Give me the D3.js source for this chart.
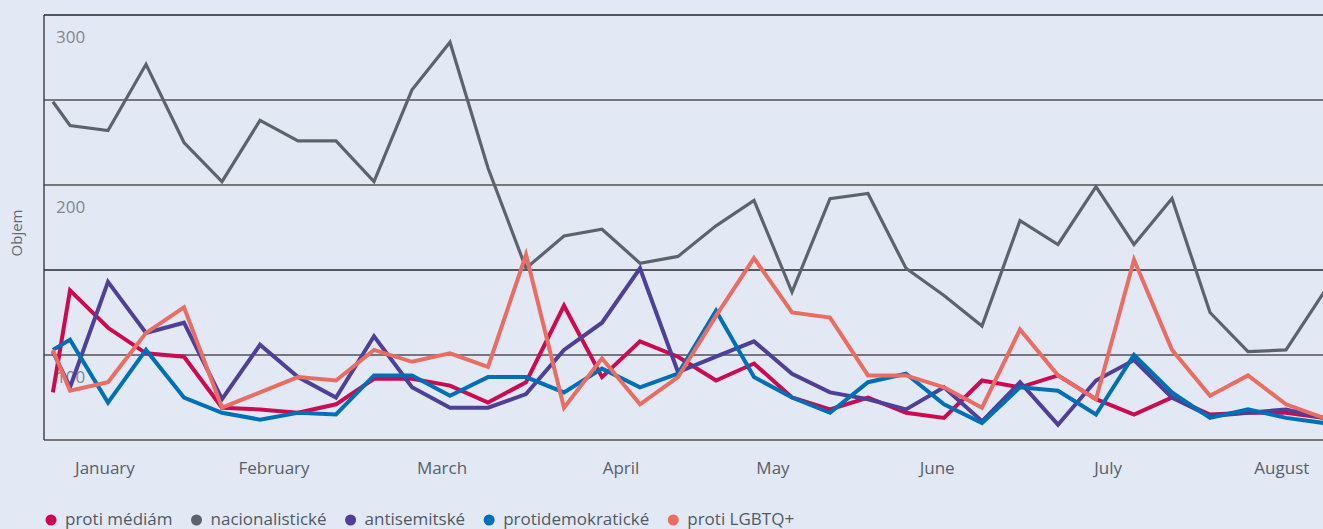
<!DOCTYPE html>
<html>
<head>
<meta charset="utf-8">
<script src="https://cdn.jsdelivr.net/npm/d3@7"></script>
<style>
  html, body { margin: 0; padding: 0; background: #e3e9f4; }
  svg { display: block; font-family: "Open Sans", sans-serif; }
</style>
</head>
<body>
<svg width="1323" height="529"></svg>
<script>
// week positions (first point is a partial week)
let weeks = [0.55, 1, 2, 3, 4, 5, 6, 7, 8, 9, 10, 11, 12, 13, 14, 15, 16, 17,
             18, 19, 20, 21, 22, 23, 24, 25, 26, 27, 28, 29, 30, 31, 32, 33, 34];

let seriesNames = ["proti médiám", "nacionalistické", "antisemitské", "protidemokratické", "proti LGBTQ+"];
let seriesColours = ["#cc0a4f", "#5b646c", "#4e3f97", "#0070b6", "#ea6d63"];

let protiMediam = [78, 138, 116, 101, 99, 69, 68, 66, 71, 86, 86, 82, 72, 84, 129, 87, 108, 99,
                   85, 95, 75, 68, 75, 66, 63, 85, 81, 88, 74, 65, 75, 65, 66, 66, 63];
let nacionalisticke = [249, 235, 232, 271, 225, 202, 238, 226, 226, 202, 256, 284, 210, 151, 170, 174, 154, 158,
                       176, 191, 137, 192, 195, 151, 135, 117, 179, 165, 199, 165, 192, 125, 102, 103, 137];
let antisemitske = [102, 81, 143, 113, 119, 74, 106, 87, 75, 111, 81, 69, 69, 77, 103, 119, 151, 90,
                    99, 108, 89, 78, 74, 68, 81, 61, 84, 59, 85, 97, 75, 64, 66, 68, 63];
let protidemokraticke = [103, 109, 72, 103, 75, 66, 62, 66, 65, 88, 88, 76, 87, 87, 78, 92, 81, 89,
                         126, 87, 75, 66, 84, 89, 71, 60, 81, 79, 65, 100, 78, 63, 68, 63, 60];
let protiLGBTQ = [103, 79, 84, 113, 128, 69, 78, 87, 85, 103, 96, 101, 93, 159, 69, 98, 71, 87,
                  123, 157, 125, 122, 88, 88, 81, 69, 115, 88, 74, 156, 103, 76, 88, 71, 63];

let monthLabels = ["January", "February", "March", "April", "May", "June", "July", "August"];
let monthTickAt = [1.92, 6.37, 10.79, 15.5, 19.5, 23.82, 28.32, 32.89];

let gridValues = [300, 250, 200, 150, 100, 50];
let darkGrid = [300, 150];
let yLabels = [300, 200, 100];

let allSeries = [protiMediam, nacionalisticke, antisemitske, protidemokraticke, protiLGBTQ];

let svg = d3.select("svg");
let plotLeft = 44, plotRight = 1323, plotTop = 15, plotBottom = 440;

let x = d3.scaleLinear().domain([0, 34]).range([32, 1324]);
let y = d3.scaleLinear().domain([50, 300]).range([plotBottom, plotTop]);

// gridlines
svg.append("g")
  .selectAll("line")
  .data(gridValues)
  .enter().append("line")
    .attr("x1", plotLeft)
    .attr("x2", plotRight)
    .attr("y1", d => y(d))
    .attr("y2", d => y(d))
    .attr("stroke", d => darkGrid.includes(d) ? "#26262f" : "#76777d")
    .attr("stroke-width", d => darkGrid.includes(d) ? 1.4 : 2);

// left axis line
svg.append("line")
  .attr("x1", plotLeft).attr("x2", plotLeft)
  .attr("y1", plotTop).attr("y2", plotBottom)
  .attr("stroke", "#3a3a44")
  .attr("stroke-width", 1.4);

// y labels sit inside the plot, just below their gridline
svg.append("g")
  .selectAll("text")
  .data(yLabels)
  .enter().append("text")
    .attr("x", plotLeft + 12)
    .attr("y", d => y(d) + 28)
    .attr("fill", "#7d8792")
    .style("font-size", "17px")
    .text(d => d);

// y title
svg.append("text")
  .attr("transform", "translate(22,233) rotate(-90)")
  .attr("text-anchor", "middle")
  .attr("fill", "#5f6a75")
  .style("font-size", "15px")
  .text("Objem");

// month labels
svg.append("g")
  .selectAll("text")
  .data(monthLabels)
  .enter().append("text")
    .attr("x", (d, i) => x(monthTickAt[i]))
    .attr("y", 474)
    .attr("text-anchor", "middle")
    .attr("fill", "#56606b")
    .style("font-size", "17px")
    .text(d => d);

// lines
let line = d3.line()
  .x((d, i) => x(weeks[i]))
  .y(d => y(d));

svg.append("g")
  .selectAll("path")
  .data(allSeries)
  .enter().append("path")
    .attr("d", line)
    .style("fill", "none")
    .style("stroke", (d, i) => seriesColours[i])
    .style("stroke-width", (d, i) => i == 1 ? 3.2 : 4)
    .style("stroke-linejoin", "miter");

// legend
let lx = 51;
seriesNames.forEach(function(name, i) {
  svg.append("circle")
    .attr("cx", lx)
    .attr("cy", 520)
    .attr("r", 5.5)
    .attr("fill", seriesColours[i]);
  let t = svg.append("text")
    .attr("x", lx + 14)
    .attr("y", 525)
    .attr("fill", "#4f5a66")
    .style("font-size", "17px")
    .text(name);
  lx += 14 + t.node().getComputedTextLength() + 24;
});
</script>
</body>
</html>
